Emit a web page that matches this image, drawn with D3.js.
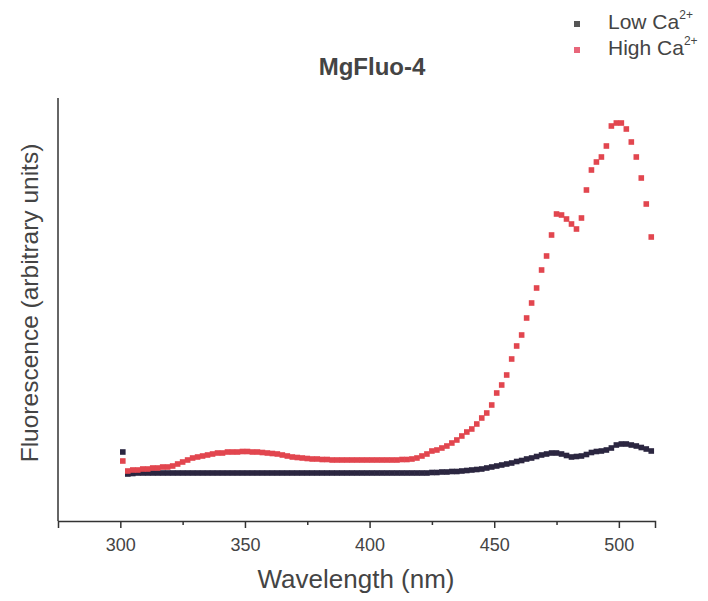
<!DOCTYPE html>
<html>
<head>
<meta charset="utf-8">
<script src="https://cdn.jsdelivr.net/npm/d3@7"></script>
<style>
  body { margin: 0; background: #fff; }
  text { font-family: "Liberation Sans", Arial, sans-serif; fill: #444; }
</style>
</head>
<body>
<script>
// wavelengths (nm), every 2 nm
let wavelengths = [
  301, 303, 305, 307, 309, 311, 313, 315, 317, 319,
  321, 323, 325, 327, 329, 331, 333, 335, 337, 339,
  341, 343, 345, 347, 349, 351, 353, 355, 357, 359,
  361, 363, 365, 367, 369, 371, 373, 375, 377, 379,
  381, 383, 385, 387, 389, 391, 393, 395, 397, 399,
  401, 403, 405, 407, 409, 411, 413, 415, 417, 419,
  421, 423, 425, 427, 429, 431, 433, 435, 437, 439,
  441, 443, 445, 447, 449, 451, 453, 455, 457, 459,
  461, 463, 465, 467, 469, 471, 473, 475, 477, 479,
  481, 483, 485, 487, 489, 491, 493, 495, 497, 499,
  501, 503, 505, 507, 509, 511, 513
];
let lowCa = [
  69, 47, 47.5, 48, 48, 48, 48, 48, 48, 48,
  48, 48, 48, 48, 48, 48, 48, 48, 48, 48,
  48, 48, 48, 48, 48, 48, 48, 48, 48, 48,
  48, 48, 48, 48, 48, 48, 48, 48, 48, 48,
  48, 48, 48, 48, 48, 48, 48, 48, 48, 48,
  48, 48, 48, 48, 48, 48, 48, 48, 48, 48,
  48, 48, 48.5, 48.5, 49, 49, 49.5, 49.5, 50, 50.5,
  51, 51.5, 52, 53, 54, 55, 56, 57, 58, 59.5,
  60.5, 62, 63, 64.5, 66, 67, 68, 68, 67, 65.5,
  64, 64.5, 65, 66.5, 68.5, 69.5, 70, 71, 73, 76,
  77, 77, 76, 75, 73.5, 72, 70
];
let highCa = [
  60, 50, 51, 51, 52, 52, 53, 53, 54, 54,
  55, 57, 59, 61, 63, 64, 65, 66, 67, 68,
  68, 69, 69, 69, 69.5, 69.5, 69, 69, 68.5, 68,
  67.5, 67, 66, 65, 64, 63.5, 63, 62.5, 62, 62,
  61.5, 61.5, 61, 61, 61, 61, 61, 61, 61, 61,
  61, 61, 61, 61, 61, 61, 61.5, 61.5, 62, 63,
  65, 67, 70, 71, 73, 75, 78, 81, 85, 89,
  92, 97, 103, 108, 116, 128, 136, 146, 162, 175,
  186, 203, 218, 233, 251, 265, 286, 307, 306, 302,
  297, 292, 303, 331, 351, 359, 364, 375, 395, 398,
  398, 392, 379, 364, 343, 317, 284
];
let xTicks = [300, 350, 400, 450, 500];
let xMinorTicks = [325, 375, 425, 475];

let width = 708,
    height = 601;

let svg = d3.select("body").append("svg")
    .attr("width", width).attr("height", height);

let x = d3.scaleLinear().domain([275, 514.5]).range([58, 655]);
let y = d3.scaleLinear().domain([0, 423]).range([521, 98]);

let series = [
  { name: "Low", values: lowCa, color: "#2b2640" },
  { name: "High", values: highCa, color: "#e2464f" }
];

// axes
svg.append("line")
    .attr("x1", x(275)).attr("x2", x(275))
    .attr("y1", y(423)).attr("y2", y(0))
    .attr("stroke", "#333").attr("stroke-width", 1.5);

let xAxis = svg.append("g")
    .attr("transform", "translate(0," + y(0) + ")")
    .call(d3.axisBottom(x).tickValues(xTicks).tickSize(7).tickPadding(10).tickFormat(d3.format("d")));
xAxis.select(".domain").attr("stroke", "#333").attr("stroke-width", 1.5);
xAxis.selectAll(".tick line").attr("stroke", "#333").attr("stroke-width", 1.5);
xAxis.selectAll(".tick text")
    .style("font-family", '"Liberation Sans", Arial, sans-serif')
    .style("font-size", "18px").attr("fill", "#444");

let minor = svg.append("g")
    .attr("transform", "translate(0," + y(0) + ")")
    .call(d3.axisBottom(x).tickValues(xMinorTicks).tickSize(4).tickFormat(""));
minor.select(".domain").remove();
minor.selectAll(".tick line").attr("stroke", "#333").attr("stroke-width", 1.5);

// data points
series.forEach(function (s) {
  svg.append("g").selectAll("rect")
      .data(s.values)
      .enter()
      .append("rect")
      .attr("x", function (d, i) { return x(wavelengths[i]) - 2.8; })
      .attr("y", function (d) { return y(d) - 2.8; })
      .attr("width", 5.6).attr("height", 5.6)
      .attr("fill", s.color);
});

// titles
svg.append("text")
    .attr("x", 372).attr("y", 75)
    .attr("text-anchor", "middle")
    .style("font-size", "24px").style("font-weight", "bold")
    .attr("fill", "#333")
    .text("MgFluo-4");

svg.append("text")
    .attr("x", 356).attr("y", 588)
    .attr("text-anchor", "middle")
    .style("font-size", "26px")
    .text("Wavelength (nm)");

svg.append("text")
    .attr("transform", "translate(38,303) rotate(-90)")
    .attr("text-anchor", "middle")
    .style("font-size", "24.5px")
    .text("Fluorescence (arbitrary units)");

// legend
let legend = svg.append("g");
series.forEach(function (s, i) {
  let ly = 23 + i * 26;
  legend.append("rect")
      .attr("x", 574).attr("y", ly - 2)
      .attr("width", 6).attr("height", 6)
      .attr("fill", i === 0 ? "#555" : "#e8667a");
  let t = legend.append("text")
      .attr("x", 608).attr("y", ly + 6)
      .style("font-size", "21px");
  t.append("tspan").text(s.name + " Ca");
  t.append("tspan").attr("dy", -10).style("font-size", "12px").text("2+");
});
</script>
</body>
</html>
